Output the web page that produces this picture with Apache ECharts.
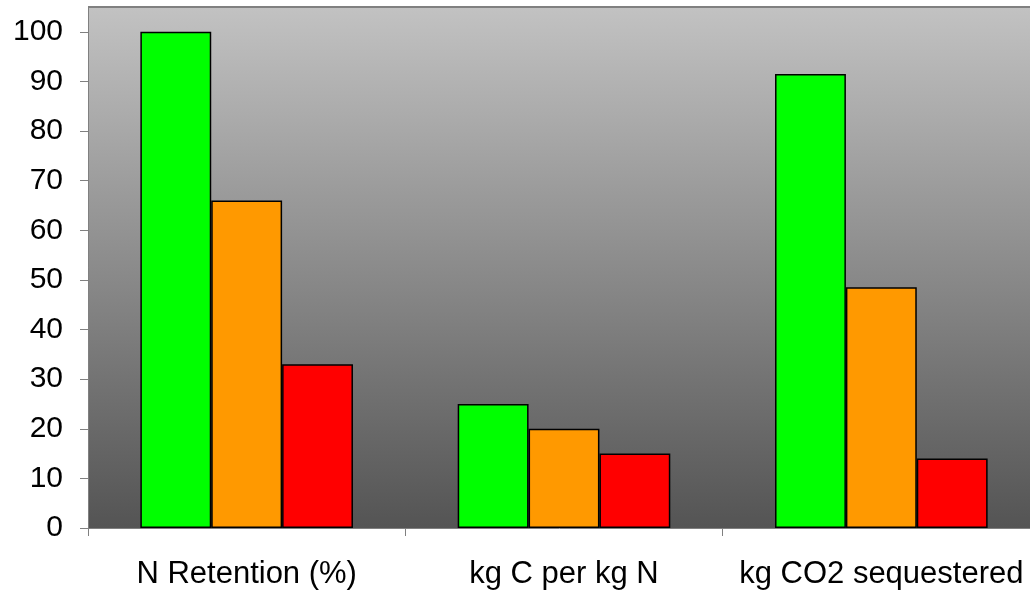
<!DOCTYPE html>
<html>
<head>
<meta charset="utf-8">
<script src="https://cdn.jsdelivr.net/npm/echarts@6/dist/echarts.min.js"></script>
<style>
html,body{margin:0;padding:0;background:#fff;}
#chart{width:1030px;height:590px;}
</style>
</head>
<body>
<div id="chart"></div>
<script>
var categories = ['N Retention (%)', 'kg C per kg N', 'kg CO2 sequestered'];
var greenValues = [100, 25, 91.5];
var orangeValues = [66, 20, 48.5];
var redValues = [33, 15, 14];
var yTicks = {min: 0, max: 105, interval: 10};

var chart = echarts.init(document.getElementById('chart'), null, {renderer: 'canvas'});
var barStyle = function (c) {
  return {color: c, borderColor: '#000', borderWidth: 1.5};
};
chart.setOption({
  animation: false,
  backgroundColor: '#fff',
  grid: {
    left: 88, top: 7, bottom: 62, width: 952,
    outerBoundsMode: 'none',
    containLabel: false,
    show: true,
    borderWidth: 0,
    backgroundColor: new echarts.graphic.LinearGradient(0, 0, 0, 1, [
      {offset: 0, color: '#c2c2c2'},
      {offset: 1, color: '#545454'}
    ])
  },
  xAxis: {
    type: 'category',
    data: categories,
    axisLine: {show: true, lineStyle: {color: '#808080', width: 1}},
    axisTick: {show: true, length: 8, lineStyle: {color: '#808080'}},
    axisLabel: {
      color: '#000', fontSize: 31, fontFamily: 'Liberation Sans, Arial, sans-serif',
      margin: 31, interval: 0, hideOverlap: false
    },
    splitLine: {show: false}
  },
  yAxis: {
    type: 'value',
    min: yTicks.min, max: yTicks.max, interval: yTicks.interval,
    axisLine: {show: true, lineStyle: {color: '#808080', width: 1}},
    axisTick: {show: true, length: 8, lineStyle: {color: '#808080'}},
    axisLabel: {
      color: '#000', fontSize: 30, fontFamily: 'Liberation Sans, Arial, sans-serif',
      margin: 25, showMaxLabel: false
    },
    splitLine: {show: false}
  },
  series: [
    {name: 'Green', type: 'bar', data: greenValues, itemStyle: barStyle('#00ff00'), barGap: '0%', barCategoryGap: '33%'},
    {name: 'Orange', type: 'bar', data: orangeValues, itemStyle: barStyle('#ff9900'), barGap: '0%', barCategoryGap: '33%'},
    {name: 'Red', type: 'bar', data: redValues, itemStyle: barStyle('#ff0000'), barGap: '0%', barCategoryGap: '33%'}
  ],
  graphic: [
    {type: 'line', shape: {x1: 88, y1: 7, x2: 1030, y2: 7}, style: {stroke: '#808080', lineWidth: 2}, z: 10}
  ]
});
</script>
</body>
</html>
